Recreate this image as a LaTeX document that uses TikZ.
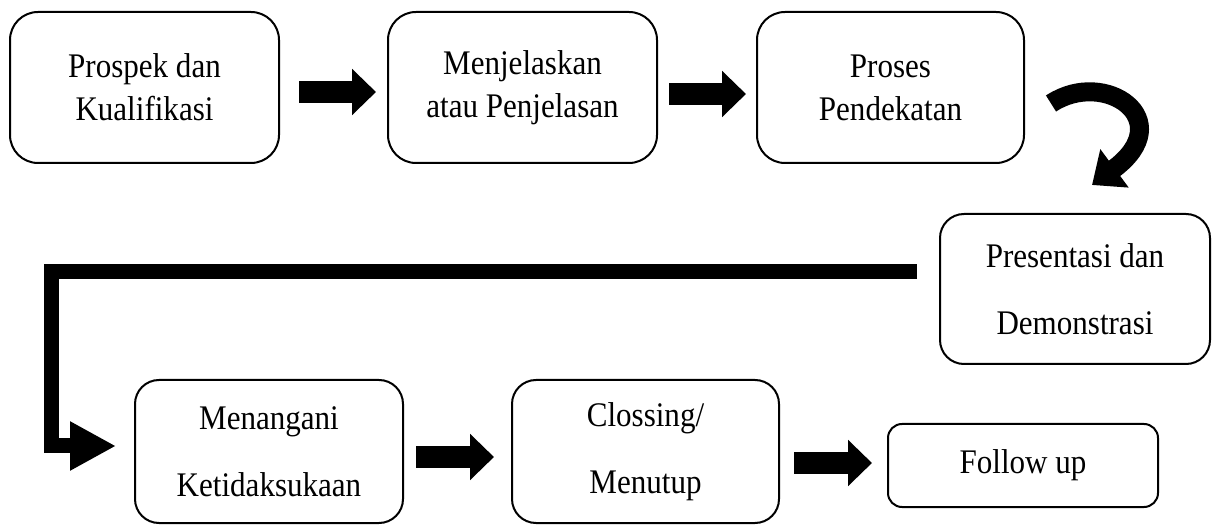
\documentclass[tikz,border=0pt]{standalone}
\usepackage{fontspec}
\setmainfont{Liberation Serif}[FakeStretch=0.9]
\usetikzlibrary{arrows.meta,calc}
\begin{document}
\begin{tikzpicture}[x=1pt,y=-1pt,
  box/.style={draw=black,line width=2pt,rounded corners=28pt,inner sep=0pt,align=center,
    font=\fontsize{34.5}{43}\selectfont},
  wide/.style={font=\fontsize{34.5}{67}\selectfont},
  blockarrow/.style={line width=22pt,-{Triangle[width=45pt,length=24pt]}},
  curvearrow/.style={line width=19pt,-{Triangle[width=46pt,length=28pt]}},
  lline/.style={line width=15pt,line join=miter,-{Triangle[width=46pt,length=46pt]}}]
\useasboundingbox (0,0) rectangle (1216,526);
\node[box,minimum width=269pt,minimum height=151pt] (B1) at (144.5,87.5) {Prospek dan\\Kualifikasi};
\node[box,minimum width=269pt,minimum height=151pt] (B2) at (522.5,87.5) {Menjelaskan\\atau Penjelasan};
\node[box,minimum width=267pt,minimum height=151pt] (B3) at (890.5,87.5) {Proses\\Pendekatan};
\node[box,wide,rounded corners=24pt,minimum width=270pt,minimum height=150pt] (B4) at (1075,289) {Presentasi dan\\Demonstrasi};
\node[box,wide,rounded corners=24pt,minimum width=268pt,minimum height=143pt] (B5) at (269,451.5) {Menangani\\Ketidaksukaan};
\node[box,wide,rounded corners=24pt,minimum width=267pt,minimum height=143pt] (B6) at (645.5,451.5) {Clossing/\\Menutup};
\node[box,rounded corners=14pt,minimum width=270pt,minimum height=83pt] (B7) at (1023,465.5) {Follow up};
% straight block arrows
\draw[blockarrow] ($(B1.east)+(19,4.5)$) -- ($(B2.west)+(-11,4.5)$);
\draw[blockarrow] ($(B2.east)+(11,6.5)$) -- ($(B3.west)+(-10,6.5)$);
\draw[blockarrow] ($(B5.east)+(12,5.5)$) -- ($(B6.west)+(-17,5.5)$);
\draw[blockarrow] ($(B6.east)+(14,11.5)$) -- ($(B7.west)+(-15,-2.5)$);
% curved arrow B3 -> B4
\coordinate (c1) at ($(B3.east)+(26,16)$);
\coordinate (c2) at ($(B4.north)+(17,-28)$);
\draw[curvearrow] (c1) .. controls (1105,68) and (1180,120) .. (c2);
% L connector B4 -> B5
\coordinate (L0) at ($(B4.west)+(-22,-17)$);
\coordinate (Ltip) at ($(B5.west)+(-18,-5.5)$);
\coordinate (Lc) at (51.5,446);
\draw[lline] (L0) -| (Lc) -- (Ltip);
\end{tikzpicture}
\end{document}
